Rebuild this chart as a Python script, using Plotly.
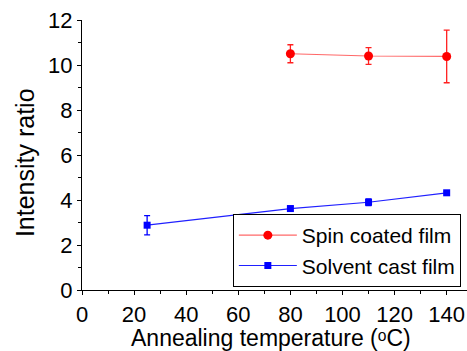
import plotly.graph_objects as go

# Annealing temperature (°C) and measured intensity ratios
spin_temp = [80, 110, 140]
spin_ratio = [10.5, 10.4, 10.38]
spin_err = [0.4, 0.37, 1.17]

cast_temp = [25, 80, 110, 140]
cast_ratio = [2.88, 3.62, 3.9, 4.32]
cast_err = [0.43, 0.1, 0.15, 0.05]

FONT = "Liberation Sans, Arial, sans-serif"

fig = go.Figure()
fig.add_trace(go.Scatter(
    x=spin_temp, y=spin_ratio, name="Spin coated film",
    mode="lines+markers",
    line=dict(color="rgba(255,40,40,0.7)", width=1.2),
    marker=dict(symbol="circle", size=9, color="#ff0000"),
    error_y=dict(type="data", array=spin_err, color="#ff2020", thickness=1.3, width=3),
))
fig.add_trace(go.Scatter(
    x=cast_temp, y=cast_ratio, name="Solvent cast film",
    mode="lines+markers",
    line=dict(color="#2020ff", width=1.2),
    marker=dict(symbol="square", size=7, color="#0000ff"),
    error_y=dict(type="data", array=cast_err, color="#0000ff", thickness=1.3, width=3),
))

axis_common = dict(
    showline=True, linecolor="black", linewidth=1.3,
    ticks="outside", ticklen=4, tickwidth=1.2, tickcolor="black",
    showgrid=False, zeroline=False,
    tickfont=dict(family=FONT, size=22, color="black"),
)

fig.update_layout(
    width=467, height=351,
    margin=dict(l=82, r=0, t=20, b=61),
    plot_bgcolor="white", paper_bgcolor="white",
    xaxis=dict(
        range=[0, 147.8], tick0=0, dtick=20,
        minor=dict(dtick=10, ticks="outside", ticklen=3, tickcolor="black"),
        **axis_common,
    ),
    yaxis=dict(
        range=[0, 12], tick0=0, dtick=2,
        minor=dict(dtick=1, ticks="outside", ticklen=3, tickcolor="black"),
        **axis_common,
    ),
    annotations=[
        dict(
            text="Intensity ratio", textangle=-90,
            xref="paper", yref="paper", x=-0.148, y=0.47,
            xanchor="center", yanchor="middle", showarrow=False,
            font=dict(family=FONT, size=25, color="black"),
        ),
        dict(
            text="Annealing temperature (\u1d52C)",
            xref="paper", yref="paper", x=0.49, y=-0.178,
            xanchor="center", yanchor="middle", showarrow=False,
            font=dict(family=FONT, size=23, color="black"),
        ),
    ],
    legend=dict(
        x=0.984, xanchor="right", y=0.011, yanchor="bottom",
        bordercolor="black", borderwidth=1, bgcolor="white",
        font=dict(family=FONT, size=21, color="black"),
        itemwidth=58, tracegroupgap=0,
    ),
)

fig.write_html("out.html")
